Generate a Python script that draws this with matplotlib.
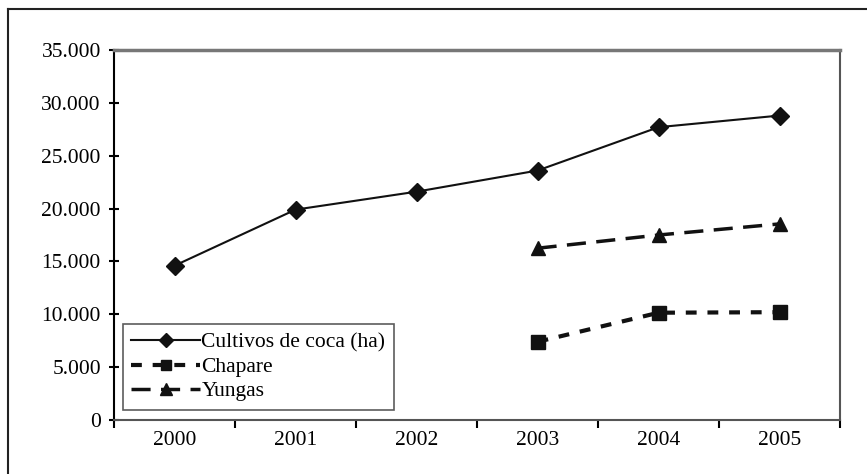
import numpy as np
import matplotlib.pyplot as plt
from matplotlib.ticker import FuncFormatter, FixedLocator
from matplotlib.lines import Line2D

plt.rcParams['font.family'] = ['Liberation Serif', 'DejaVu Serif']

years = ['2000', '2001', '2002', '2003', '2004', '2005']
total = [14600, 19900, 21600, 23600, 27700, 28800]
chapare = [np.nan, np.nan, np.nan, 7400, 10150, 10200]
yungas = [np.nan, np.nan, np.nan, 16250, 17500, 18550]

fig = plt.figure(figsize=(8.67, 4.74), dpi=100)
ax = fig.add_axes([0.1315, 0.1139, 0.8375, 0.7806])

x = np.arange(len(years))
ax.plot(x, total, color='#111111', lw=1.5, marker='D', markersize=9,
        label='Cultivos de coca (ha)')
ax.plot(x, chapare, color='#111111', lw=3, dashes=(2.6, 2.6), marker='s',
        markersize=9.5, label='Chapare')
ax.plot(x, yungas, color='#111111', lw=2.5, dashes=(5.5, 3), marker='^',
        markersize=10, label='Yungas')

ax.set_xlim(-0.5, 5.5)
ax.set_ylim(0, 35000)
ax.set_yticks(np.arange(0, 35001, 5000))
ax.yaxis.set_major_formatter(FuncFormatter(lambda v, p: f'{int(v):,}'.replace(',', '.')))
ax.set_xticks(x)
ax.set_xticklabels(years)
ax.xaxis.set_minor_locator(FixedLocator(np.arange(-0.5, 5.6, 1)))
ax.tick_params(axis='x', which='major', length=0, labelsize=15.5, pad=8)
ax.tick_params(axis='x', which='minor', length=6, width=1.5, direction='out')
ax.tick_params(axis='y', length=7, width=1.5, direction='inout', labelsize=15.5, pad=6)

ax.spines['top'].set_color('#777777')
ax.spines['top'].set_linewidth(2.5)
ax.spines['right'].set_color('#555555')
ax.spines['right'].set_linewidth(1.5)
ax.spines['left'].set_linewidth(1.5)
ax.spines['bottom'].set_color('#555555')
ax.spines['bottom'].set_linewidth(1.5)

leg = ax.legend(loc='lower left', bbox_to_anchor=(0.012, 0.027), fontsize=15.5,
                frameon=True, fancybox=False, edgecolor='#333333',
                handlelength=3.2, handletextpad=0.05, borderpad=0.4,
                labelspacing=0.2, borderaxespad=0, markerscale=0.8)
leg.get_frame().set_linewidth(1.2)

# outer frame (left and top edges only visible)
fig.add_artist(Line2D([8 / 867, 8 / 867], [0, 1 - 9 / 474], transform=fig.transFigure,
                      color='#222222', lw=1.5))
fig.add_artist(Line2D([8 / 867, 1], [1 - 9 / 474, 1 - 9 / 474], transform=fig.transFigure,
                      color='#222222', lw=1.5))

fig.savefig('out.png', dpi=100)
